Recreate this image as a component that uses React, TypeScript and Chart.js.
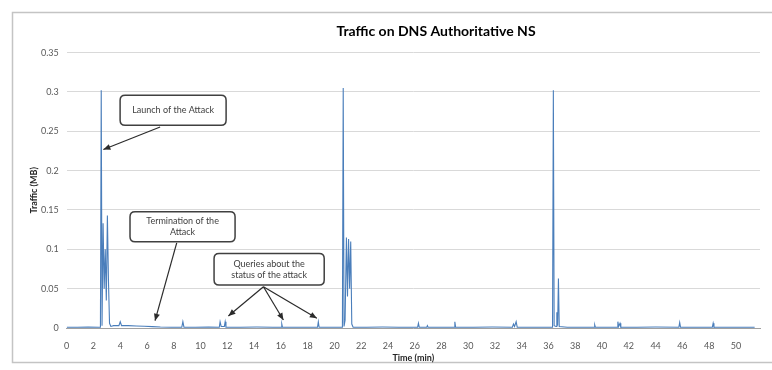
import React, { useEffect, useRef } from "react";
import { Chart, registerables } from "chart.js";

Chart.register(...registerables);

// ---- data (time in minutes, traffic in MB) ----
const timeMin = [
  0, 0.8, 1.6, 2.4, 2.52, 2.58, 2.64, 2.72, 2.8, 2.88, 2.96, 3.04, 3.12, 3.2, 3.3,
  3.5, 3.9, 4.0, 4.1, 4.6, 5.2, 5.8, 6.4, 7.0, 7.8, 8.6, 8.68, 8.76, 9.6, 10.6, 11.4, 11.46, 11.54,
  11.78, 11.84, 11.9, 13.0, 14.2, 15.4, 16.02, 16.07, 16.12, 17.2, 18.74, 18.8, 18.86, 19.8, 20.6,
  20.66, 20.72, 20.8, 20.9, 20.98, 21.06, 21.14, 21.22, 21.3, 21.4, 22.4, 23.6, 24.8, 26.22, 26.28,
  26.34, 26.9, 26.95, 27.0, 28.1, 28.94, 29.0, 29.06, 30.4, 31.8, 33.3, 33.38, 33.46, 33.58, 33.66,
  34.6, 35.6, 36.3, 36.36, 36.42, 36.56, 36.62, 36.68, 36.74, 36.8, 37.4, 38.6, 39.4, 39.45, 39.5,
  40.6, 41.12, 41.18, 41.24, 41.34, 41.4, 42.6, 44.0, 45.74, 45.8, 45.86, 47.2, 48.24, 48.3, 48.36,
  49.4, 50.4, 51.4,
];
const trafficMB = [
  0.001, 0.001, 0.0012, 0.001, 0.001, 0.302, 0.003, 0.133, 0.05, 0.1, 0.035, 0.143, 0.06, 0.006, 0.002,
  0.003, 0.003, 0.008, 0.003, 0.003, 0.0025, 0.0022, 0.0018, 0.0012, 0.001, 0.001, 0.008, 0.001, 0.001, 0.0012, 0.001, 0.008, 0.002,
  0.002, 0.008, 0.001, 0.001, 0.0012, 0.001, 0.001, 0.005, 0.001, 0.001, 0.001, 0.008, 0.001, 0.001, 0.001,
  0.305, 0.002, 0.01, 0.115, 0.04, 0.113, 0.05, 0.11, 0.005, 0.001, 0.001, 0.0012, 0.001, 0.001, 0.006,
  0.001, 0.001, 0.003, 0.001, 0.001, 0.001, 0.008, 0.001, 0.001, 0.0012, 0.001, 0.005, 0.002, 0.008, 0.001,
  0.001, 0.001, 0.001, 0.302, 0.003, 0.002, 0.02, 0.003, 0.063, 0.002, 0.001, 0.001, 0.001, 0.004, 0.001,
  0.001, 0.001, 0.008, 0.002, 0.006, 0.001, 0.001, 0.0012, 0.001, 0.007, 0.001, 0.001, 0.001, 0.006, 0.001,
  0.001, 0.001, 0.001,
];

const xTickValues = [0, 2, 4, 6, 8, 10, 12, 14, 16, 18, 20, 22, 24, 26, 28, 30, 32, 34, 36, 38, 40, 42, 44, 46, 48, 50];
const yTickValues = [0, 0.05, 0.1, 0.15, 0.2, 0.25, 0.3, 0.35];

const chartTitle = "Traffic on DNS Authoritative NS";
const xAxisTitle = "Time (min)";
const yAxisTitle = "Traffic (MB)";

// callouts: text lines, box corners in data units, arrow start and targets in data units
const callouts = [
  { lines: ["Launch of the Attack"], box: [3.99, 0.2957, 11.91, 0.2576], from: [6.98, 0.2555], to: [[2.74, 0.2268]] },
  { lines: ["Termination of the", "Attack"], box: [4.73, 0.1476, 12.58, 0.1095], from: [8.22, 0.1082], to: [[6.6, 0.0093]] },
  {
    lines: ["Queries about the", "status of the attack"],
    box: [11.01, 0.0948, 19.24, 0.0546],
    from: [14.7, 0.0524],
    to: [[12.08, 0.0152], [16.19, 0.0102], [18.69, 0.0123]],
  },
];

const FONT = "Lato, 'Open Sans', 'Liberation Sans', sans-serif";

const framePlugin = {
  id: "frame",
  beforeDraw(chart: any) {
    const ctx = chart.ctx;
    ctx.save();
    ctx.fillStyle = "#ffffff";
    ctx.fillRect(0, 0, chart.width, chart.height);
    ctx.strokeStyle = "#c4c4c4";
    ctx.lineWidth = 1.5;
    ctx.strokeRect(12.5, 12.5, chart.width, chart.height - 20);
    ctx.restore();
  },
  afterLayout(chart: any) {
    const tb = chart.titleBlock;
    if (tb) {
      tb.left = 100;
      tb.right = chart.width;
      tb.width = tb.right - tb.left;
    }
  },
};

function roundRect(ctx: CanvasRenderingContext2D, x: number, y: number, w: number, h: number, r: number) {
  ctx.beginPath();
  ctx.moveTo(x + r, y);
  ctx.lineTo(x + w - r, y);
  ctx.quadraticCurveTo(x + w, y, x + w, y + r);
  ctx.lineTo(x + w, y + h - r);
  ctx.quadraticCurveTo(x + w, y + h, x + w - r, y + h);
  ctx.lineTo(x + r, y + h);
  ctx.quadraticCurveTo(x, y + h, x, y + h - r);
  ctx.lineTo(x, y + r);
  ctx.quadraticCurveTo(x, y, x + r, y);
  ctx.closePath();
}

const calloutPlugin = {
  id: "callouts",
  afterDatasetsDraw(chart: any) {
    const ctx: CanvasRenderingContext2D = chart.ctx;
    const xs = chart.scales.x;
    const ys = chart.scales.y;
    const px = (v: number) => xs.getPixelForValue(v);
    const py = (v: number) => ys.getPixelForValue(v);
    ctx.save();
    for (const c of callouts) {
      const fx = px(c.from[0]);
      const fy = py(c.from[1]);
      for (const t of c.to) {
        const tx = px(t[0]);
        const ty = py(t[1]);
        ctx.strokeStyle = "#2b2b2b";
        ctx.fillStyle = "#2b2b2b";
        ctx.lineWidth = 1.2;
        ctx.beginPath();
        ctx.moveTo(fx, fy);
        ctx.lineTo(tx, ty);
        ctx.stroke();
        const ang = Math.atan2(ty - fy, tx - fx);
        const L = 7;
        const W = 3;
        ctx.beginPath();
        ctx.moveTo(tx, ty);
        ctx.lineTo(tx - L * Math.cos(ang) + W * Math.sin(ang), ty - L * Math.sin(ang) - W * Math.cos(ang));
        ctx.lineTo(tx - L * Math.cos(ang) - W * Math.sin(ang), ty - L * Math.sin(ang) + W * Math.cos(ang));
        ctx.closePath();
        ctx.fill();
      }
      const x0 = px(c.box[0]);
      const y0 = py(c.box[1]);
      const x1 = px(c.box[2]);
      const y1 = py(c.box[3]);
      roundRect(ctx, x0, y0, x1 - x0, y1 - y0, 5);
      ctx.fillStyle = "#ffffff";
      ctx.fill();
      ctx.strokeStyle = "#404040";
      ctx.lineWidth = 1.5;
      ctx.stroke();
      ctx.fillStyle = "#404040";
      ctx.font = `9px ${FONT}`;
      ctx.textAlign = "center";
      ctx.textBaseline = "middle";
      const cx = (x0 + x1) / 2;
      const cy = (y0 + y1) / 2;
      const lh = 11;
      c.lines.forEach((ln, i) => {
        ctx.fillText(ln, cx, cy + (i - (c.lines.length - 1) / 2) * lh);
      });
    }
    ctx.restore();
  },
};

export default function App() {
  const ref = useRef<HTMLCanvasElement | null>(null);
  useEffect(() => {
    if (!ref.current) return;
    const points = timeMin.map((t, i) => ({ x: t, y: trafficMB[i] }));
    const chart = new Chart(ref.current, {
      type: "line",
      data: {
        datasets: [
          {
            label: "Traffic",
            data: points,
            borderColor: "#4a7ebb",
            borderWidth: 1.1,
            pointRadius: 0,
            tension: 0,
            fill: false,
          },
        ],
      },
      options: {
        animation: false,
        responsive: false,
        devicePixelRatio: 1,
        layout: { padding: { left: 12, right: 12, top: 12, bottom: 4 } },
        plugins: {
          legend: { display: false },
          tooltip: { enabled: false },
          title: {
            display: true,
            text: chartTitle,
            color: "#000000",
            font: { family: FONT, size: 14, weight: "bold", lineHeight: 1.2 },
            padding: { top: 10.6, bottom: 13.2 },
          },
        },
        scales: {
          x: {
            type: "linear",
            min: 0,
            max: 51.8,
            afterFit: (s: any) => {
              s.height = 38;
            },
            afterBuildTicks: (s: any) => {
              s.ticks = xTickValues.map((v) => ({ value: v }));
            },
            grid: { display: false },
            border: { display: true, color: "#a0a0a0" },
            ticks: {
              autoSkip: false,
              maxRotation: 0,
              padding: 5,
              color: "#595959",
              font: { family: FONT, size: 9 },
              callback: (v: any) => String(v),
            },
            title: {
              display: true,
              text: xAxisTitle,
              color: "#262626",
              font: { family: FONT, size: 9, weight: "bold", lineHeight: 1.2 },
              padding: { top: 0, bottom: 2.6 },
            },
          },
          y: {
            type: "linear",
            min: 0,
            max: 0.35,
            afterFit: (s: any) => {
              s.width = 54.7;
            },
            afterBuildTicks: (s: any) => {
              s.ticks = yTickValues.map((v) => ({ value: v }));
            },
            grid: { color: "#d9d9d9", lineWidth: 1, drawTicks: false },
            border: { display: false },
            ticks: {
              padding: 8,
              color: "#595959",
              font: { family: FONT, size: 9 },
              callback: (v: any) => String(Number(Number(v).toFixed(2))),
            },
            title: {
              display: true,
              text: yAxisTitle,
              color: "#262626",
              font: { family: FONT, size: 9, weight: "bold", lineHeight: 1.2 },
              padding: { top: 16.6, bottom: 0 },
            },
          },
        },
      },
      plugins: [framePlugin, calloutPlugin],
    });
    return () => chart.destroy();
  }, []);
  return (
    <div style={{ position: "absolute", left: 0, top: 0, width: 772, height: 370 }}>
      <canvas ref={ref} width={772} height={370} style={{ display: "block" }} />
    </div>
  );
}
